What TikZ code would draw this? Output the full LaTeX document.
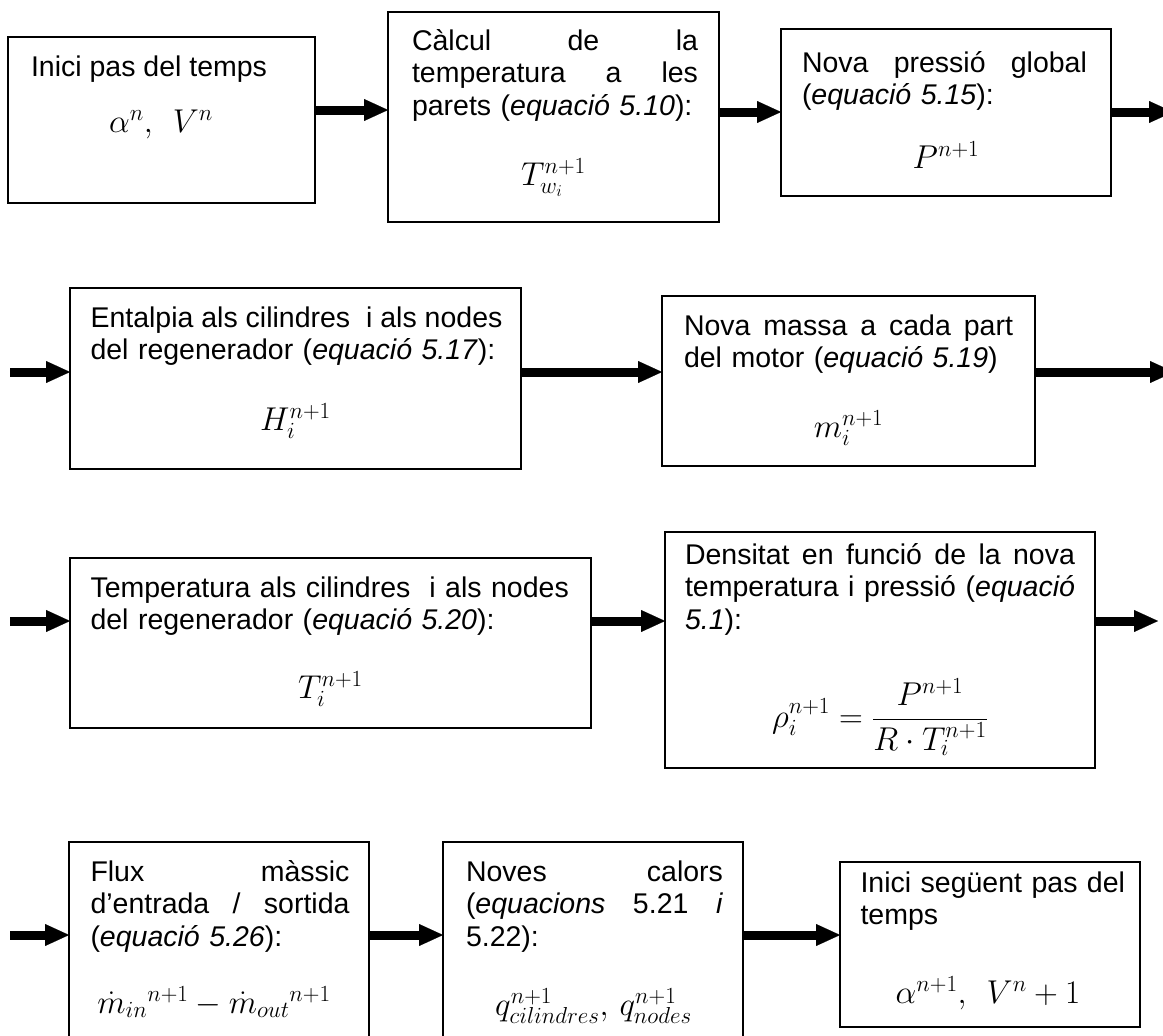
\RequirePackage{fix-cm}
\documentclass[tikz,border=0pt]{standalone}
\usepackage[no-math]{fontspec}
\setmainfont{Liberation Sans}
\usetikzlibrary{arrows.meta}
\newcommand{\fst}{\rule{0pt}{25pt}}
\newcommand{\jline}[2]{\makebox[#1pt][s]{\spaceskip=0pt\xspaceskip=0pt #2}}
\begin{document}
\begin{tikzpicture}[x=1pt,y=-1pt,
  box/.style={draw, line width=2.2pt, inner sep=0pt, outer sep=0pt, anchor=north west},
  txt/.style={anchor=north west, inner sep=0pt, outer sep=0pt, align=left, font=\fontsize{28.5}{32.5}\selectfont},
  mth/.style={anchor=base, inner sep=0pt, outer sep=0pt, font=\fontsize{33}{38}\selectfont},
  arr/.style={line width=9pt, -{Triangle[length=24pt,width=22pt,line width=0.1pt]}}]
\fill[white] (0,0) rectangle (1163,1036);
\useasboundingbox (0,0) rectangle (1163,1036);
\clip (0,0) rectangle (1163,1036);

% boxes
\node[box, minimum width=307pt, minimum height=166pt] (a) at (8,37) {};
\node[box, minimum width=331pt, minimum height=210pt] (b) at (388,12) {};
\node[box, minimum width=330pt, minimum height=167pt] (c) at (781,29) {};
\node[box, minimum width=451pt, minimum height=181pt] (ent) at (70,288) {};
\node[box, minimum width=373pt, minimum height=170pt] (mas) at (662,296) {};
\node[box, minimum width=521pt, minimum height=170pt] (tem) at (70,558) {};
\node[box, minimum width=430pt, minimum height=236pt] (den) at (665,532) {};
\node[box, minimum width=300pt, minimum height=230pt] (flx) at (69,842) {};
\node[box, minimum width=300pt, minimum height=230pt] (nov) at (443,842) {};
\node[box, minimum width=300pt, minimum height=165pt] (seg) at (840,862) {};

% arrow rows and free ends
\coordinate (r1a) at (0,110);
\coordinate (r1b) at (0,112);
\coordinate (s2) at (10,372);
\coordinate (s3) at (10,621);
\coordinate (s4) at (10,935);
\coordinate (e1) at (1173,112);
\coordinate (e2) at (1174,372);
\coordinate (e3) at (1158,621);

\draw[arr] (a.east |- r1a) -- (b.west |- r1a);
\draw[arr] (b.east |- r1b) -- (c.west |- r1b);
\draw[arr] (c.east |- r1b) -- (e1);
\draw[arr] (s2) -- (ent.west |- s2);
\draw[arr] (ent.east |- s2) -- (mas.west |- s2);
\draw[arr] (mas.east |- s2) -- (e2);
\draw[arr] (s3) -- (tem.west |- s3);
\draw[arr] (tem.east |- s3) -- (den.west |- s3);
\draw[arr] (den.east |- s3) -- (e3);
\draw[arr] (s4) -- (flx.west |- s4);
\draw[arr] (flx.east |- s4) -- (nov.west |- s4);
\draw[arr] (nov.east |- s4) -- (seg.west |- s4);

% texts
\node[txt] (ta) at (31,51) {\fst Inici pas del temps};
\node[txt, text width=290pt] (tb) at (412,25) {\fst\jline{286}{Càlcul de la}\\\jline{286}{temperatura a les}\\parets (\textit{equació 5.10}):};
\node[txt, text width=290pt] (tc) at (802,47) {\fst\jline{285}{Nova pressió global}\\(\textit{equació 5.15}):};
\node[txt, text width=416pt] (te) at (90.5,302) {\fst\jline{412}{Entalpia als cilindres\ \ i als nodes}\\del regenerador (\textit{equació 5.17}):};
\node[txt, text width=334pt] (tm) at (684,310) {\fst\jline{329}{Nova massa a cada part}\\del motor (\textit{equació 5.19})};
\node[txt, text width=490pt] (tt) at (90.5,572) {\fst Temperatura als cilindres\ \ i als nodes\\del regenerador (\textit{equació 5.20}):};
\node[txt, text width=395pt] (td) at (685,539) {\fst\jline{390}{Densitat en funció de la nova}\\\jline{390}{temperatura i pressió (\textit{equació}}\\\textit{5.1}):};
\node[txt, text width=264pt] (tf) at (90.5,856) {\fst\jline{259}{Flux màssic}\\\jline{259}{d’entrada / sortida}\\(\textit{equació 5.26}):};
\node[txt, text width=262pt] (tn) at (466,856) {\fst\jline{257}{Noves calors}\\\jline{257}{(\textit{equacions} 5.21 \textit{i}}\\5.22):};
\node[txt, text width=275pt] (ts) at (860.5,867) {\fst Inici següent pas del\\temps};

% maths
\node[mth] (ma) at (161,132) {$\alpha^{n},\;\, V^{n}$};
\node[mth] (mb) at (553.5,185) {$T_{w_i}^{n+1}$};
\node[mth] (mc) at (946,168) {$P^{n+1}$};
\node[mth] (me) at (295.5,430) {$H_i^{n+1}$};
\node[mth] (mm) at (848.5,437) {$m_i^{n+1}$};
\node[mth] (mt) at (330.5,698) {$T_i^{n+1}$};
\node[mth] (md) at (880,727.5) {$\displaystyle \rho_i^{n+1} = \frac{P^{n+1}}{R\cdot T_i^{n+1}}$};
\node[mth] (mf) at (214,1013) {${\dot m_{in}}{}^{n+1} - {\dot m_{out}}{}^{n+1}$};
\node[mth] (mn) at (593.5,1015) {$q^{n+1}_{cilindres},\, q^{n+1}_{nodes}$};
\node[mth] (ms) at (988,1003) {$\alpha^{n+1},\;\, V^{n}+1$};
\end{tikzpicture}
\end{document}
